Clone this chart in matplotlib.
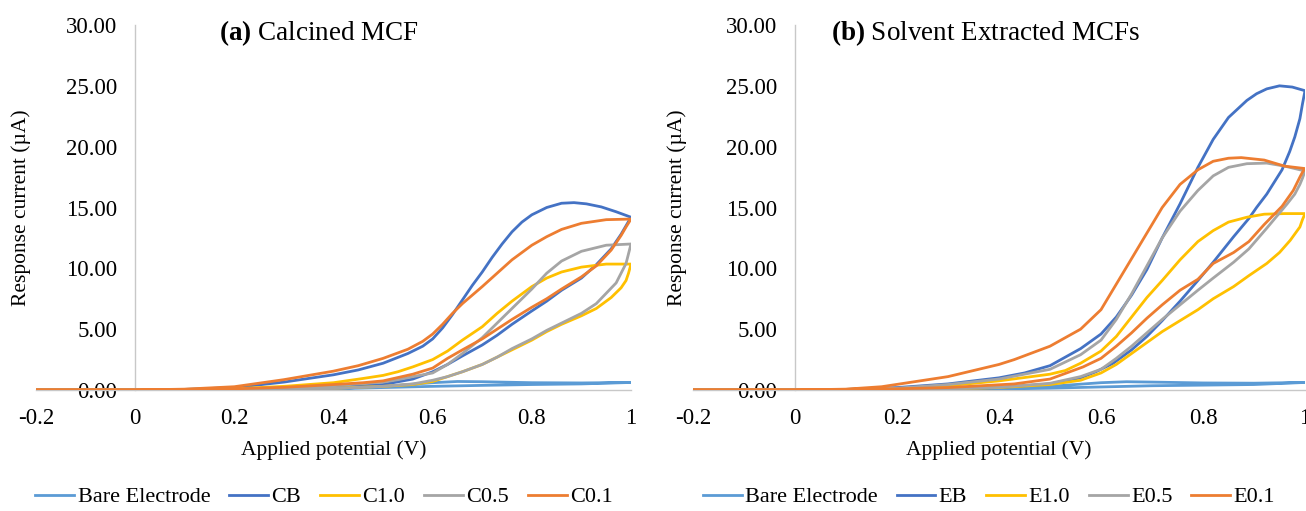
import matplotlib
matplotlib.use("Agg")
import matplotlib.pyplot as plt

plt.rcParams['font.family'] = ['Liberation Serif', 'DejaVu Serif']
plt.rcParams['mathtext.fontset'] = 'custom'
plt.rcParams['mathtext.rm'] = 'Liberation Serif'
plt.rcParams['mathtext.bf'] = 'Liberation Serif:bold'

# ---- data: (a) calcined MCF, loops = forward branch then return branch ----
bare_a_v = [-0.2, 0, 0.2, 0.3, 0.4, 0.5, 0.55, 0.6, 0.65, 0.7, 0.8, 0.9, 1.0,
            0.9, 0.8, 0.7, 0.6, 0.5, 0.4, 0.3, 0.2, 0, -0.2]
bare_a_i = [0, 0, 0.02, 0.05, 0.12, 0.3, 0.45, 0.6, 0.7, 0.68, 0.6, 0.58, 0.62,
            0.5, 0.45, 0.38, 0.3, 0.2, 0.1, 0.05, 0.02, 0, 0]

cb_v = [-0.2, 0, 0.1, 0.2, 0.3, 0.4, 0.45, 0.5, 0.55, 0.58, 0.6, 0.62, 0.64, 0.66, 0.68, 0.7,
        0.72, 0.74, 0.76, 0.78, 0.8, 0.83, 0.86, 0.885, 0.91, 0.94, 0.97, 1.0,
        0.99, 0.98, 0.96, 0.93, 0.9, 0.86, 0.83, 0.8, 0.76, 0.73, 0.7, 0.66, 0.63, 0.6, 0.56,
        0.5, 0.4, 0.3, 0.2, 0, -0.2]
cb_i = [0, 0, 0.05, 0.2, 0.65, 1.25, 1.65, 2.2, 3.0, 3.6, 4.2, 5.1, 6.2, 7.4, 8.6, 9.7,
        10.9, 12.0, 13.0, 13.8, 14.4, 15.0, 15.35, 15.4, 15.3, 15.05, 14.65, 14.2,
        13.5, 12.8, 11.6, 10.3, 9.2, 8.2, 7.3, 6.5, 5.4, 4.5, 3.7, 2.8, 2.1, 1.5, 0.9,
        0.45, 0.2, 0.1, 0.05, 0, 0]

c10_v = [-0.2, 0, 0.2, 0.3, 0.4, 0.46, 0.5, 0.53, 0.56, 0.6, 0.63, 0.66, 0.7, 0.73, 0.76, 0.8,
         0.83, 0.86, 0.9, 0.95, 1.0,
         0.995, 0.99, 0.98, 0.96, 0.93, 0.9, 0.86, 0.83, 0.8, 0.76, 0.73, 0.7, 0.66, 0.63, 0.6,
         0.56, 0.5, 0.4, 0.2, 0, -0.2]
c10_i = [0, 0, 0.1, 0.3, 0.6, 0.95, 1.2, 1.5, 1.9, 2.5, 3.2, 4.1, 5.2, 6.3, 7.3, 8.5,
         9.2, 9.7, 10.1, 10.35, 10.35,
         9.6, 9.0, 8.4, 7.6, 6.7, 6.1, 5.4, 4.8, 4.1, 3.3, 2.7, 2.1, 1.5, 1.1, 0.7,
         0.45, 0.3, 0.15, 0.05, 0, 0]

c05_v = [-0.2, 0, 0.2, 0.3, 0.4, 0.5, 0.53, 0.56, 0.6, 0.63, 0.66, 0.7, 0.73, 0.76, 0.8,
         0.83, 0.86, 0.9, 0.95, 1.0,
         0.995, 0.99, 0.97, 0.93, 0.9, 0.86, 0.83, 0.8, 0.76, 0.73, 0.7, 0.66, 0.63, 0.6,
         0.56, 0.5, 0.4, 0.2, 0, -0.2]
c05_i = [0, 0, 0.05, 0.15, 0.35, 0.65, 0.85, 1.1, 1.4, 2.1, 3.0, 4.3, 5.5, 6.7, 8.3,
         9.6, 10.6, 11.4, 11.9, 12.0,
         11.2, 10.4, 8.8, 7.1, 6.3, 5.5, 4.9, 4.2, 3.4, 2.7, 2.1, 1.5, 1.1, 0.8,
         0.5, 0.3, 0.12, 0.03, 0, 0]

c01_v = [-0.2, 0, 0.1, 0.2, 0.3, 0.4, 0.45, 0.5, 0.55, 0.58, 0.6, 0.62, 0.64, 0.66, 0.7, 0.73,
         0.76, 0.8, 0.83, 0.86, 0.9, 0.95, 1.0,
         0.99, 0.98, 0.96, 0.93, 0.9, 0.86, 0.83, 0.8, 0.76, 0.73, 0.7, 0.66, 0.63, 0.6, 0.56,
         0.5, 0.46, 0.4, 0.3, 0.2, 0.1, 0, -0.2]
c01_i = [0, 0, 0.07, 0.27, 0.85, 1.55, 2.0, 2.6, 3.35, 4.0, 4.6, 5.4, 6.3, 7.1, 8.5, 9.6,
         10.7, 11.9, 12.6, 13.2, 13.7, 14.0, 14.05,
         13.4, 12.7, 11.5, 10.2, 9.3, 8.3, 7.5, 6.8, 5.8, 5.0, 4.2, 3.3, 2.6, 1.8, 1.3,
         0.75, 0.6, 0.45, 0.22, 0.1, 0.03, 0, 0]

# ---- data: (b) solvent extracted MCFs ----
bare_b_v = [-0.2, 0, 0.2, 0.3, 0.4, 0.5, 0.55, 0.6, 0.65, 0.7, 0.8, 0.9, 1.0,
            0.9, 0.8, 0.7, 0.6, 0.5, 0.4, 0.2, 0, -0.2]
bare_b_i = [0, 0, 0.02, 0.05, 0.12, 0.3, 0.45, 0.6, 0.68, 0.65, 0.58, 0.56, 0.62,
            0.45, 0.4, 0.35, 0.25, 0.15, 0.08, 0.02, 0, 0]

eb_v = [-0.2, 0, 0.1, 0.2, 0.3, 0.4, 0.45, 0.5, 0.56, 0.6, 0.63, 0.66, 0.69, 0.72, 0.755,
        0.79, 0.82, 0.85, 0.886, 0.905, 0.925, 0.95, 0.975, 1.0,
        0.995, 0.99, 0.98, 0.97, 0.955, 0.94, 0.925, 0.905, 0.89, 0.86, 0.82, 0.79, 0.755,
        0.72, 0.69, 0.66, 0.624, 0.59, 0.56, 0.5, 0.4, 0.3, 0.2, 0, -0.2]
eb_i = [0, 0, 0.05, 0.2, 0.5, 1.0, 1.4, 2.0, 3.4, 4.6, 6.0, 7.8, 9.9, 12.5, 15.3,
        18.3, 20.6, 22.4, 23.8, 24.35, 24.75, 25.0, 24.9, 24.6,
        23.5, 22.3, 20.8, 19.6, 18.1, 17.1, 16.1, 15.0, 14.1, 12.6, 10.5, 9.0, 7.3,
        5.7, 4.4, 3.3, 2.2, 1.5, 1.0, 0.5, 0.2, 0.08, 0.03, 0, 0]

e10_v = [-0.2, 0, 0.2, 0.3, 0.4, 0.5, 0.53, 0.56, 0.6, 0.63, 0.66, 0.69, 0.72, 0.755, 0.79,
         0.82, 0.85, 0.886, 0.92, 0.96, 1.0,
         0.995, 0.99, 0.971, 0.95, 0.925, 0.89, 0.86, 0.82, 0.79, 0.755, 0.72, 0.69, 0.66,
         0.63, 0.6, 0.56, 0.5, 0.4, 0.3, 0.2, 0, -0.2]
e10_i = [0, 0, 0.1, 0.35, 0.75, 1.3, 1.6, 2.2, 3.2, 4.4, 6.0, 7.6, 9.0, 10.7, 12.2,
         13.1, 13.8, 14.2, 14.45, 14.5, 14.5,
         14.0, 13.4, 12.3, 11.3, 10.4, 9.4, 8.5, 7.5, 6.6, 5.7, 4.8, 3.9, 3.0,
         2.1, 1.4, 0.8, 0.45, 0.2, 0.08, 0.03, 0, 0]

e05_v = [-0.2, 0, 0.1, 0.2, 0.3, 0.4, 0.5, 0.56, 0.6, 0.63, 0.66, 0.69, 0.72, 0.755, 0.79,
         0.82, 0.85, 0.886, 0.925, 0.96, 0.99, 1.0,
         0.995, 0.99, 0.98, 0.965, 0.945, 0.925, 0.89, 0.86, 0.82, 0.79, 0.755, 0.72, 0.69,
         0.66, 0.63, 0.6, 0.56, 0.5, 0.4, 0.3, 0.2, 0, -0.2]
e05_i = [0, 0, 0.04, 0.15, 0.45, 0.9, 1.7, 2.9, 4.1, 5.8, 7.9, 10.2, 12.5, 14.7, 16.4,
         17.6, 18.3, 18.6, 18.65, 18.4, 18.1, 18.0,
         17.4, 16.9, 16.1, 15.3, 14.3, 13.3, 11.6, 10.5, 9.2, 8.2, 7.0, 5.8, 4.7,
         3.6, 2.6, 1.7, 1.1, 0.55, 0.22, 0.08, 0.03, 0, 0]

e01_v = [-0.2, 0, 0.1, 0.17, 0.3, 0.4, 0.43, 0.5, 0.56, 0.6, 0.63, 0.66, 0.69, 0.72, 0.755,
         0.79, 0.82, 0.85, 0.875, 0.92, 0.96, 1.0,
         0.995, 0.99, 0.977, 0.955, 0.92, 0.89, 0.86, 0.82, 0.79, 0.755, 0.72, 0.69, 0.66,
         0.63, 0.6, 0.565, 0.5, 0.43, 0.3, 0.2, 0, -0.2]
e01_i = [0, 0, 0.07, 0.27, 1.1, 2.1, 2.5, 3.6, 5.0, 6.6, 8.7, 10.8, 12.9, 15.0, 16.9,
         18.1, 18.8, 19.05, 19.1, 18.9, 18.4, 18.2,
         17.9, 17.5, 16.4, 15.1, 13.6, 12.2, 11.3, 10.4, 9.1, 8.2, 7.0, 5.9, 4.7,
         3.6, 2.6, 1.9, 0.9, 0.5, 0.2, 0.1, 0, 0]

labels_a = ['Bare Electrode', 'CB', 'C1.0', 'C0.5', 'C0.1']
labels_b = ['Bare Electrode', 'EB', 'E1.0', 'E0.5', 'E0.1']
colors = ['#5B9BD5', '#4472C4', '#FFC000', '#A5A5A5', '#ED7D31']
x_ticks = [-0.2, 0, 0.2, 0.4, 0.6, 0.8, 1.0]
x_ticklabels = ['-0.2', '0', '0.2', '0.4', '0.6', '0.8', '1']
y_ticks = [0, 5, 10, 15, 20, 25, 30]

series_a = [(bare_a_v, bare_a_i), (cb_v, cb_i), (c10_v, c10_i), (c05_v, c05_i), (c01_v, c01_i)]
series_b = [(bare_b_v, bare_b_i), (eb_v, eb_i), (e10_v, e10_i), (e05_v, e05_i), (e01_v, e01_i)]

W, H = 1306, 511
fig = plt.figure(figsize=(W / 100, H / 100), dpi=100)
ax1 = fig.add_axes([36 / W, 1 - 390 / H, 595 / W, 365 / H])
ax2 = fig.add_axes([693 / W, 1 - 390 / H, 612 / W, 365 / H])

fs_tick = 16.5
fs = 15.5
fs_leg = 16
panels = [(ax1, series_a, labels_a, r'$\mathbf{(a)}$ Calcined MCF', 319, 324),
          (ax2, series_b, labels_b, r'$\mathbf{(b)}$ Solvent Extracted MCFs', 986, 989)]

for ax, series, labels, title, tx, lx in panels:
    for (v, i), lab, c in zip(series, labels, colors):
        ax.plot(v, i, color=c, lw=2.0, label=lab, zorder=3, solid_joinstyle='round')
    ax.set_xlim(-0.2, 1.0)
    ax.set_ylim(0, 30)
    ax.set_xticks(x_ticks)
    ax.set_xticklabels(x_ticklabels)
    ax.set_yticks(y_ticks)
    ax.set_yticklabels([f'{t:.2f}' for t in y_ticks])
    ax.spines['top'].set_visible(False)
    ax.spines['right'].set_visible(False)
    ax.spines['left'].set_position(('data', 0))
    for s in ('left', 'bottom'):
        ax.spines[s].set_color('#C8C8C8')
        ax.spines[s].set_linewidth(1.0)
    ax.tick_params(axis='both', length=0, labelsize=fs_tick, colors='black')
    ax.tick_params(axis='y', pad=13)
    ax.tick_params(axis='x', pad=13)
    ax.set_xlabel('Applied potential (V)', fontsize=fs)
    ax.set_ylabel('Response current (\u00b5A)', fontsize=fs)
    ax.xaxis.set_label_coords(0.5, -60 / 365)
    ax.xaxis.label.set_va('center')
    ax.yaxis.set_label_coords(-15 / 595, 0.5)
    ax.yaxis.label.set_va('center')
    fig.text(tx / W, 1 - 33 / H, title, fontsize=19.5, ha='center', va='center')
    ax.legend(loc='center', bbox_to_anchor=(lx / W, 1 - 497 / H), bbox_transform=fig.transFigure,
              ncol=5, frameon=False, fontsize=fs_leg, handlelength=1.75, handletextpad=0.15,
              columnspacing=0.85, borderaxespad=0)

fig.savefig('out.png', dpi=100)
